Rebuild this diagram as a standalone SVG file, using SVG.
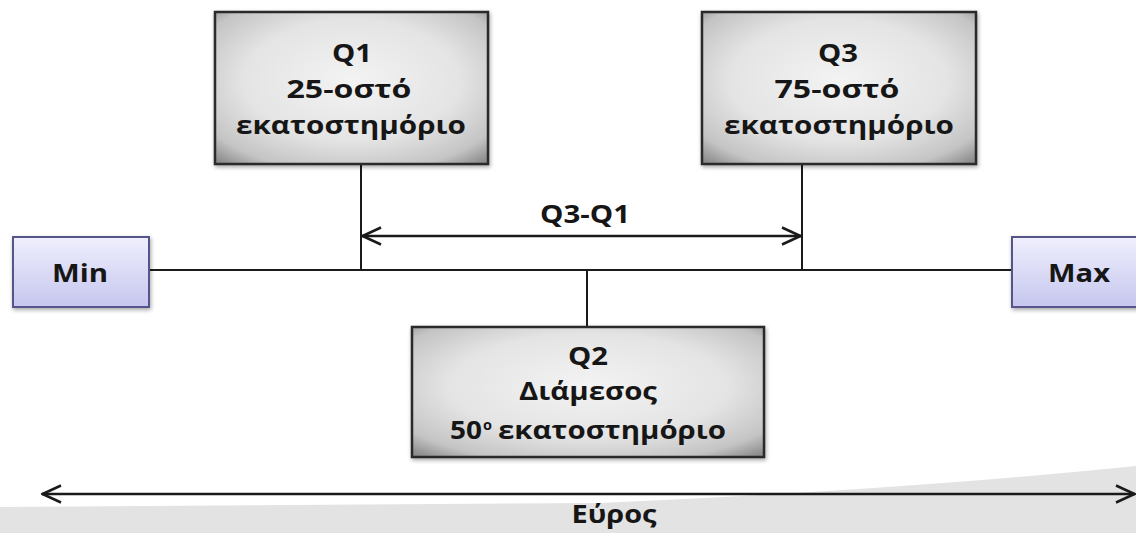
<svg xmlns="http://www.w3.org/2000/svg" width="1136" height="533" viewBox="0 0 1136 533">
  <style>
    .lbl { font-family: "Open Sans", "Noto Sans", "DejaVu Sans", sans-serif; font-weight: bold; font-size: 25px; fill: #161616; text-anchor: middle; }
    .start { text-anchor: start; }
    .sup { font-size: 15px; }
    .q { fill: url(#grayFill); stroke: #2a2a2a; stroke-width: 2.5; filter: url(#shadow); }
    .mm { fill: url(#lavFill); stroke: #55558a; stroke-width: 2; filter: url(#shadow); }
    .ln { stroke: #1a1a1a; stroke-width: 2; fill: none; }
    .arr { stroke: #1a1a1a; stroke-width: 2.5; fill: none; marker-start: url(#chev); marker-end: url(#chev); }
  </style>
  <defs>
    <radialGradient id="grayFill" cx="0.5" cy="0.45" r="0.72">
      <stop offset="0" stop-color="#f3f3f3"/>
      <stop offset="0.55" stop-color="#e4e4e4"/>
      <stop offset="0.85" stop-color="#c4c4c4"/>
      <stop offset="1" stop-color="#8c8c8c"/>
    </radialGradient>
    <linearGradient id="lavFill" x1="0" y1="0" x2="0" y2="1">
      <stop offset="0" stop-color="#efeffd"/>
      <stop offset="1" stop-color="#c6c6ef"/>
    </linearGradient>
    <filter id="shadow" x="-10%" y="-10%" width="125%" height="130%">
      <feGaussianBlur in="SourceAlpha" stdDeviation="2"/>
      <feOffset dx="1" dy="2" result="b"/>
      <feComponentTransfer><feFuncA type="linear" slope="0.35"/></feComponentTransfer>
      <feMerge><feMergeNode/><feMergeNode in="SourceGraphic"/></feMerge>
    </filter>
    <marker id="chev" viewBox="0 0 22 20" refX="21" refY="10" markerWidth="22" markerHeight="20" markerUnits="userSpaceOnUse" orient="auto-start-reverse">
      <path d="M2,1.5 L20.5,10 L2,18.5" fill="none" stroke="#1a1a1a" stroke-width="2.5"/>
    </marker>
  </defs>

  <!-- background and the soft grey band along the bottom -->
  <rect width="1136" height="533" fill="#ffffff"/>
  <path d="M0,507 L600,503 Q900,490 1136,466 L1136,533 L0,533 Z" fill="#e3e3e3"/>

  <!-- connectors -->
  <g id="connectors">
    <line class="ln" x1="149" y1="270" x2="1012" y2="270"/>
    <line class="ln" x1="361" y1="164" x2="361" y2="270"/>
    <line class="ln" x1="802" y1="164" x2="802" y2="270"/>
    <line class="ln" x1="587" y1="270" x2="587" y2="327"/>
    <line class="arr" x1="362" y1="236" x2="801" y2="236"/>
    <line class="arr" x1="42" y1="494" x2="1135" y2="494"/>
  </g>

  <g id="q1">
    <rect class="q" x="215" y="12" width="273" height="152"/>
    <text class="lbl" x="352" y="62" textLength="40" lengthAdjust="spacingAndGlyphs">Q1</text>
    <text class="lbl" x="349" y="98" textLength="125" lengthAdjust="spacingAndGlyphs">25-οστό</text>
    <text class="lbl" x="351" y="134" textLength="230" lengthAdjust="spacingAndGlyphs">εκατοστημόριο</text>
  </g>

  <g id="q3">
    <rect class="q" x="702" y="12" width="274" height="152"/>
    <text class="lbl" x="838" y="62" textLength="40" lengthAdjust="spacingAndGlyphs">Q3</text>
    <text class="lbl" x="837" y="98" textLength="125" lengthAdjust="spacingAndGlyphs">75-οστό</text>
    <text class="lbl" x="839" y="134" textLength="230" lengthAdjust="spacingAndGlyphs">εκατοστημόριο</text>
  </g>

  <g id="q2">
    <rect class="q" x="412" y="327" width="352" height="130"/>
    <text class="lbl" x="588" y="365" textLength="40" lengthAdjust="spacingAndGlyphs">Q2</text>
    <text class="lbl" x="588" y="400" textLength="138" lengthAdjust="spacingAndGlyphs">Διάμεσος</text>
    <text class="lbl start" x="450" y="439" textLength="32" lengthAdjust="spacingAndGlyphs">50</text>
    <text class="lbl start sup" x="483" y="430" textLength="9" lengthAdjust="spacingAndGlyphs">ο</text>
    <text class="lbl start" x="498" y="439" textLength="228" lengthAdjust="spacingAndGlyphs">εκατοστημόριο</text>
  </g>

  <g id="min">
    <rect class="mm" x="13" y="237" width="136" height="70"/>
    <text class="lbl" x="80" y="282" textLength="56" lengthAdjust="spacingAndGlyphs">Min</text>
  </g>

  <g id="max">
    <rect class="mm" x="1012" y="237" width="136" height="70"/>
    <text class="lbl" x="1079" y="282" textLength="62" lengthAdjust="spacingAndGlyphs">Max</text>
  </g>

  <g id="iqr-label">
    <text class="lbl" x="585" y="223" textLength="90" lengthAdjust="spacingAndGlyphs">Q3-Q1</text>
  </g>

  <g id="range-label">
    <text class="lbl" x="614" y="523" textLength="85" lengthAdjust="spacingAndGlyphs">Εύρος</text>
  </g>
</svg>
